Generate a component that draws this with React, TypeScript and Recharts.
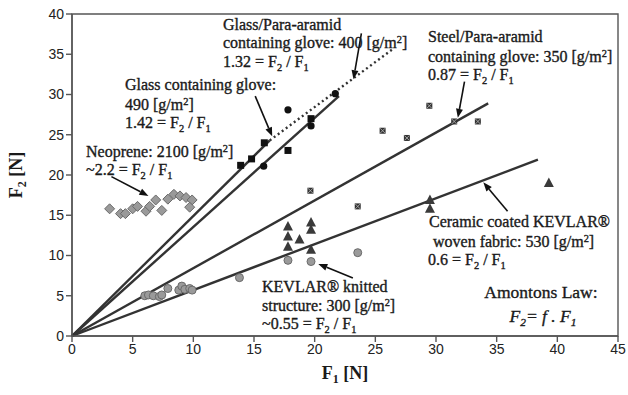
import React from "react";
import {
  ReferenceArea,
  ReferenceLine,
  Scatter,
  ScatterChart,
  XAxis,
  YAxis,
} from "recharts";

type Pair = [number, number];

const xTicks = [0, 5, 10, 15, 20, 25, 30, 35, 40, 45];
const yTicks = [0, 5, 10, 15, 20, 25, 30, 35, 40];

// measured points, F1 [N] vs F2 [N]
const glassGlove: Pair[] = [
  [13.9, 21.2], [14.8, 22.0], [15.85, 24.0], [17.8, 23.05], [19.7, 27.0],
];
const glassParaGlove: Pair[] = [
  [15.8, 21.1], [17.8, 28.1], [19.7, 26.1], [21.7, 30.1],
];
const neoprene: Pair[] = [
  [3.1, 15.8], [4.0, 15.2], [4.4, 15.2], [5.0, 15.8], [5.4, 16.1],
  [6.1, 15.5], [6.4, 16.1], [6.9, 16.9], [7.4, 15.6], [7.9, 17.0],
  [8.4, 17.6], [8.9, 17.4], [9.4, 17.2], [9.9, 16.9], [9.7, 16.0],
];
const kevlarKnitted: Pair[] = [
  [6.0, 5.0], [6.3, 5.1], [6.7, 5.0], [7.2, 4.9], [7.4, 5.1], [7.9, 5.9],
  [8.8, 5.7], [9.05, 6.2], [9.3, 5.8], [9.7, 5.9], [9.9, 5.7],
  [13.8, 7.25], [17.8, 9.4], [19.7, 9.25], [23.55, 10.35],
];
const ceramicKevlar: Pair[] = [
  [17.8, 13.6], [17.8, 12.35], [17.8, 11.1], [18.75, 12.0],
  [19.7, 14.1], [19.7, 13.2], [19.7, 10.7],
  [29.5, 16.9], [29.5, 15.8], [39.3, 19.0],
];
const steelPara: Pair[] = [
  [19.65, 18.05], [23.55, 16.1], [25.6, 25.5], [27.6, 24.6],
  [29.45, 28.6], [31.5, 26.65], [33.45, 26.65],
];

// friction lines F2 = f . F1
const glassFit: Pair[] = [[0, 0], [16.3, 24.3]];
const glassParaFit: Pair[] = [[0, 0], [22.0, 29.8]];
const glassParaTrend: Pair[] = [[16.3, 24.3], [26.4, 35.6]];
const steelFit: Pair[] = [[0, 0], [34.3, 28.9]];
const ceramicFit: Pair[] = [[0, 0], [38.4, 21.9]];

// annotation arrows: [from, to]
const arrows: Pair[][] = [
  [[15.1, 29.8], [16.5, 24.8]],
  [[23.85, 37.6], [23.2, 31.9]],
  [[3.25, 19.8], [6.3, 17.4]],
  [[32.35, 31.6], [31.8, 27.1]],
  [[35.9, 15.5], [33.9, 19.1]],
  [[23.15, 7.2], [20.3, 8.95]],
];

const toPoints = (pairs: Pair[]) => pairs.map(([x, y]) => ({ x, y }));
const toSegment = (pairs: Pair[]) =>
  pairs.map(([x, y]) => ({ x, y })) as [{ x: number; y: number }, { x: number; y: number }];

const SERIF = "'Liberation Serif', 'Times New Roman', serif";
const SANS = "'Liberation Sans', Arial, sans-serif";

const squareShape = (p: any) => (
  <rect x={p.cx - 3.5} y={p.cy - 3.5} width={7} height={7} fill="#111" />
);
const dotShape = (p: any) => <circle cx={p.cx} cy={p.cy} r={3.6} fill="#111" />;
const diamondShape = (p: any) => (
  <polygon
    points={`${p.cx},${p.cy - 5} ${p.cx + 5},${p.cy} ${p.cx},${p.cy + 5} ${p.cx - 5},${p.cy}`}
    fill="#9a9a9a"
    stroke="#6a6a6a"
    strokeWidth={1}
  />
);
const greyDotShape = (p: any) => (
  <circle cx={p.cx} cy={p.cy} r={4} fill="#9a9a9a" stroke="#6a6a6a" strokeWidth={1} />
);
const triangleShape = (p: any) => (
  <polygon
    points={`${p.cx},${p.cy - 5.5} ${p.cx + 5},${p.cy + 4} ${p.cx - 5},${p.cy + 4}`}
    fill="#3a3a3a"
  />
);
const crossSquareShape = (p: any) => (
  <g>
    <rect x={p.cx - 3} y={p.cy - 3} width={6} height={6} fill="#333" />
    <path
      d={`M${p.cx - 2.5},${p.cy - 2.5}L${p.cx + 2.5},${p.cy + 2.5}M${p.cx + 2.5},${p.cy - 2.5}L${p.cx - 2.5},${p.cy + 2.5}`}
      stroke="#bbb"
      strokeWidth={0.8}
    />
  </g>
);

const arrowShape = (p: any) => {
  const { x1, y1, x2, y2 } = p;
  const ang = Math.atan2(y2 - y1, x2 - x1);
  const len = 9;
  const w = 3.5;
  const bx = x2 - len * Math.cos(ang);
  const by = y2 - len * Math.sin(ang);
  const nx = -Math.sin(ang) * w;
  const ny = Math.cos(ang) * w;
  return (
    <g>
      <line x1={x1} y1={y1} x2={bx} y2={by} stroke="#111" strokeWidth={1.6} />
      <polygon
        points={`${x2},${y2} ${bx + nx},${by + ny} ${bx - nx},${by - ny}`}
        fill="#111"
      />
    </g>
  );
};

// "_2" -> subscript, "^2" -> superscript
function Rich({ text, x, y, size = 16, anchor = "start", italic = false }: any) {
  const parts = text.split(/([_^]\d)/).filter((s: string) => s !== "");
  let shift = 0;
  return (
    <text
      x={x}
      y={y}
      fontFamily={SERIF}
      fontSize={size}
      fill="#1a1a1a"
      stroke="#1a1a1a"
      strokeWidth={0.35}
      textAnchor={anchor}
      fontStyle={italic ? "italic" : "normal"}
    >
      {parts.map((s: string, i: number) => {
        if (s[0] === "_" || s[0] === "^") {
          const d = s[0] === "_" ? 4 : -5;
          const dy = d - shift;
          shift = d;
          return (
            <tspan key={i} dy={dy} fontSize={size * 0.65}>
              {s.slice(1)}
            </tspan>
          );
        }
        const dy = -shift;
        shift = 0;
        return (
          <tspan key={i} dy={dy}>
            {s}
          </tspan>
        );
      })}
    </text>
  );
}

const labels = [
  { x: 223, y: 30, t: "Glass/Para-aramid" },
  { x: 223, y: 48, t: "containing glove: 400 [g/m^2]" },
  { x: 223, y: 67, t: "1.32 = F_2 / F_1" },
  { x: 125, y: 90, t: "Glass containing glove:" },
  { x: 125, y: 110, t: "490 [g/m^2]" },
  { x: 125, y: 128, t: "1.42 = F_2 / F_1" },
  { x: 86, y: 157, t: "Neoprene: 2100 [g/m^2]" },
  { x: 86, y: 175, t: "~2.2 = F_2 / F_1" },
  { x: 428, y: 42, t: "Steel/Para-aramid" },
  { x: 428, y: 62, t: "containing glove: 350 [g/m^2]" },
  { x: 428, y: 80, t: "0.87 = F_2 / F_1" },
  { x: 429, y: 227, t: "Ceramic coated  KEVLAR®" },
  { x: 433, y: 247, t: "woven fabric: 530 [g/m^2]" },
  { x: 428, y: 265, t: "0.6 = F_2 / F_1" },
  { x: 262, y: 292, t: "KEVLAR® knitted" },
  { x: 262, y: 311, t: "structure: 300 [g/m^2]" },
  { x: 262, y: 329, t: "~0.55 = F_2 / F_1" },
];

export default function App() {
  const lineStyle = { stroke: "#333", strokeWidth: 2.4 };
  return (
    <div
      style={{
        position: "absolute",
        left: 0,
        top: 0,
        width: 628,
        height: 395,
        background: "#fff",
      }}
    >
      <ScatterChart
        width={628}
        height={395}
        margin={{ top: 14, right: 10, bottom: 0, left: 0 }}
      >
        <XAxis
          type="number"
          dataKey="x"
          domain={[0, 45]}
          ticks={xTicks}
          height={59}
          stroke="#555"
          strokeWidth={1.4}
          tick={{ fill: "#222", fontSize: 14, fontFamily: SANS }}
        />
        <YAxis
          type="number"
          dataKey="y"
          domain={[0, 40]}
          ticks={yTicks}
          width={72}
          stroke="#555"
          strokeWidth={1.4}
          tick={{ fill: "#222", fontSize: 14, fontFamily: SANS }}
        />
        <ReferenceArea
          x1={0}
          x2={45}
          y1={0}
          y2={40}
          fill="none"
          stroke="#555"
          strokeWidth={1.4}
        />
        <ReferenceLine segment={toSegment(glassFit)} {...lineStyle} />
        <ReferenceLine segment={toSegment(glassParaFit)} {...lineStyle} />
        <ReferenceLine
          segment={toSegment(glassParaTrend)}
          stroke="#333"
          strokeWidth={2.4}
          strokeDasharray="2 3"
        />
        <ReferenceLine segment={toSegment(steelFit)} {...lineStyle} />
        <ReferenceLine segment={toSegment(ceramicFit)} {...lineStyle} />
        <Scatter data={toPoints(neoprene)} shape={diamondShape} isAnimationActive={false} />
        <Scatter data={toPoints(kevlarKnitted)} shape={greyDotShape} isAnimationActive={false} />
        <Scatter data={toPoints(ceramicKevlar)} shape={triangleShape} isAnimationActive={false} />
        <Scatter data={toPoints(steelPara)} shape={crossSquareShape} isAnimationActive={false} />
        <Scatter data={toPoints(glassGlove)} shape={squareShape} isAnimationActive={false} />
        <Scatter data={toPoints(glassParaGlove)} shape={dotShape} isAnimationActive={false} />
        {arrows.map((a, i) => (
          <ReferenceLine key={i} segment={toSegment(a)} shape={arrowShape} />
        ))}
      </ScatterChart>
      <svg
        width={628}
        height={395}
        style={{ position: "absolute", left: 0, top: 0, pointerEvents: "none" }}
      >
        {labels.map((l, i) => (
          <Rich key={i} text={l.t} x={l.x} y={l.y} />
        ))}
        <Rich text="Amontons Law:" x={541} y={298} size={17.5} anchor="middle" />
        <Rich text="F_2= f . F_1" x={543} y={322} size={17.5} anchor="middle" italic />
        <text
          x={345}
          y={379}
          fontFamily={SERIF}
          fontWeight="bold"
          fontSize={18}
          textAnchor="middle"
          fill="#1a1a1a"
        >
          F<tspan dy={4} fontSize={12}>1</tspan>
          <tspan dy={-4}> [N]</tspan>
        </text>
        <text
          transform="translate(22,175) rotate(-90)"
          fontFamily={SERIF}
          fontWeight="bold"
          fontSize={18}
          textAnchor="middle"
          fill="#1a1a1a"
        >
          F<tspan dy={4} fontSize={12}>2</tspan>
          <tspan dy={-4}> [N]</tspan>
        </text>
      </svg>
    </div>
  );
}
